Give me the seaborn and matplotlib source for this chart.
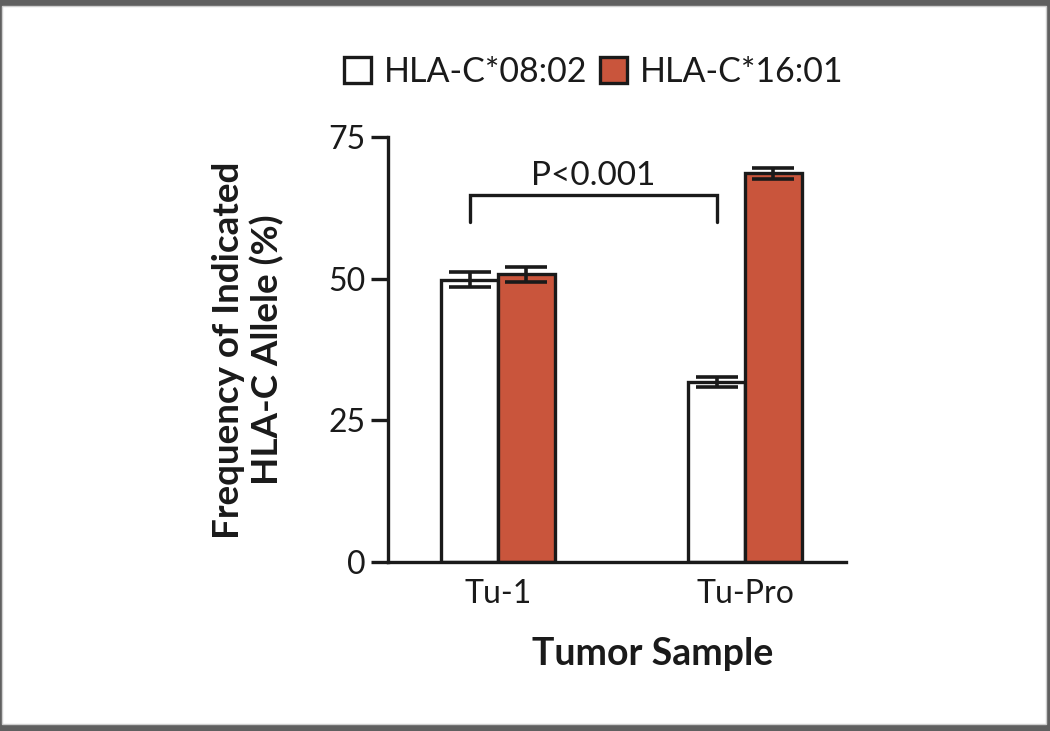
import matplotlib
matplotlib.use("Agg")
import matplotlib.pyplot as plt
import seaborn as sns
import pandas as pd
from matplotlib.patches import Rectangle, Patch

samples = ["Tu-1", "Tu-Pro"]
alleles = ["HLA-C*08:02", "HLA-C*16:01"]
freq_0802 = [49.8, 31.8]
freq_1601 = [50.8, 68.6]
err_0802 = [1.3, 0.9]
err_1601 = [1.3, 1.0]
y_ticks = [0, 25, 50, 75]
p_text = "P<0.001"

colors = ["#FFFFFF", "#C9553C"]

df = pd.DataFrame({
    "sample": samples * 2,
    "allele": [alleles[0]] * 2 + [alleles[1]] * 2,
    "freq": freq_0802 + freq_1601,
    "err": err_0802 + err_1601,
})

sns.set_theme(style="white")
plt.rcParams["font.family"] = ["Lato", "DejaVu Sans"]

fig = plt.figure(figsize=(10.5, 7.31), dpi=100)
fig.patch.set_facecolor("#606060")
fig.patches.append(Rectangle((2 / 1050, 1 - 724 / 731), 1044 / 1050, 718 / 731,
                             transform=fig.transFigure, facecolor="white",
                             edgecolor="#cfcfcf", linewidth=1, zorder=-5))

ax = fig.add_axes([388 / 1050, 1 - 562 / 731, 458 / 1050, 425 / 731])
ax.set_facecolor("none")

sns.barplot(data=df, x="sample", y="freq", hue="allele", order=samples,
            hue_order=alleles, palette=colors, saturation=1, width=0.458, gap=0,
            errorbar=None, edgecolor="#1a1a1a", linewidth=2.4,
            legend=False, ax=ax)

# error bars at each bar's centre, taken from the drawn patches
bars = [p for p in ax.patches]
errs = err_0802 + err_1601
vals = freq_0802 + freq_1601
for p, e, v in zip(bars, errs, vals):
    cx = p.get_x() + p.get_width() / 2
    ax.errorbar(cx, v, yerr=e, color="#1a1a1a", capsize=15, capthick=2.6,
                elinewidth=2.6, zorder=5)

# significance bracket between the HLA-C*08:02 bars
x1 = bars[0].get_x() + bars[0].get_width() / 2
x2 = bars[1].get_x() + bars[1].get_width() / 2
ax.plot([x1, x1, x2, x2], [60, 64.8, 64.8, 60], color="#1a1a1a", lw=2.4,
        solid_joinstyle="miter", clip_on=False)
ax.text((x1 + x2) / 2, 66.6, p_text, ha="center", va="baseline", fontsize=24,
        color="#1a1a1a")

ax.set_xlim(-0.445, 1.409)
ax.set_ylim(0, 75)
ax.set_yticks(y_ticks)
ax.set_yticklabels([str(t) for t in y_ticks])
sns.despine(ax=ax)
for s in ["left", "bottom"]:
    ax.spines[s].set_linewidth(2.4)
    ax.spines[s].set_color("#1a1a1a")
ax.tick_params(axis="y", length=12, width=2.4, color="#1a1a1a", labelsize=23,
               labelcolor="#1a1a1a", pad=4, left=True)
ax.tick_params(axis="x", length=0, labelsize=23, labelcolor="#1a1a1a", pad=12)

ax.set_xlabel("Tumor Sample", fontsize=27, fontweight="bold", color="#1a1a1a")
ax.xaxis.set_label_coords((653 - 388) / 458, -(665 - 562) / 425, transform=ax.transAxes)
ax.xaxis.label.set_va("baseline")
ax.set_ylabel("Frequency of Indicated\nHLA-C Allele (%)", fontsize=26.5,
              fontweight="bold", color="#1a1a1a", linespacing=1.15)
ax.yaxis.set_label_coords(-(388 - 248) / 458, (562 - 350) / 425, transform=ax.transAxes)
ax.yaxis.label.set_va("center")

legend_x = [344, 600]
for c, lab, lx in zip(colors, alleles, legend_x):
    h = Patch(facecolor=c, edgecolor="#1a1a1a", linewidth=2.4)
    fig.legend([h], [lab], loc="center left",
               bbox_to_anchor=(lx / 1050, 1 - 72 / 731),
               frameon=False, fontsize=24.5, handlelength=0.79,
               handleheight=0.79, handletextpad=0.38, labelcolor="#1a1a1a",
               borderaxespad=0, borderpad=0)

fig.savefig("out.png", dpi=100, facecolor=fig.get_facecolor())
